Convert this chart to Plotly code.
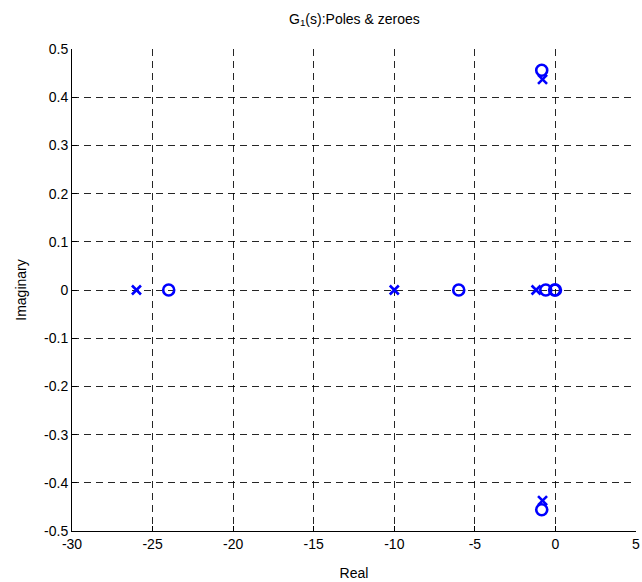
import plotly.graph_objects as go

# Data
pole_re = [-26.0, -10.0, -1.2, -0.8, -0.8]
pole_im = [0.0, 0.0, 0.0, 0.437, -0.437]
zero_re = [-24.0, -6.0, -0.6, 0.0, -0.05, -0.85, -0.85]
zero_im = [0.0, 0.0, 0.0, 0.0, 0.0, 0.456, -0.456]

x_ticks = [-30, -25, -20, -15, -10, -5, 0, 5]
x_tick_text = ["-30", "-25", "-20", "-15", "-10", "-5", "0", "5"]
y_ticks = [0.5, 0.4, 0.3, 0.2, 0.1, 0, -0.1, -0.2, -0.3, -0.4, -0.5]
y_tick_text = ["0.5", "0.4", "0.3", "0.2", "0.1", "0", "-0.1", "-0.2", "-0.3", "-0.4", "-0.5"]

BLUE = "rgb(0,0,255)"
FONT = "Liberation Sans, Arial, sans-serif"

fig = go.Figure()
fig.add_trace(go.Scatter(
    x=pole_re, y=pole_im, mode="markers", name="Poles",
    marker=dict(symbol="x-thin", size=9, line=dict(color=BLUE, width=2.6), color=BLUE),
    cliponaxis=False,
))
fig.add_trace(go.Scatter(
    x=zero_re, y=zero_im, mode="markers", name="Zeros",
    marker=dict(symbol="circle-open", size=11, line=dict(color=BLUE, width=2.6), color=BLUE),
    cliponaxis=False,
))

axis_common = dict(
    showline=True, linecolor="black", linewidth=1, mirror=False,
    ticks="inside", ticklen=5, tickcolor="black", tickwidth=1,
    showgrid=True, gridcolor="rgba(0,0,0,0.85)", gridwidth=1, griddash="7px,5px",
    zeroline=False, automargin=False,
    tickfont=dict(family=FONT, size=14, color="black"),
    title_font=dict(family=FONT, size=14, color="black"),
)

fig.update_xaxes(
    range=[-30, 5], tickmode="array", tickvals=x_ticks, ticktext=x_tick_text,
    title_text="Real", title_standoff=17, **axis_common,
)
fig.update_yaxes(
    range=[-0.5, 0.5], tickmode="array", tickvals=y_ticks, ticktext=y_tick_text,
    title_text="Imaginary", title_standoff=14, **axis_common,
)

fig.update_layout(
    width=642, height=582,
    margin=dict(l=72, r=6, t=49, b=51),
    paper_bgcolor="white", plot_bgcolor="white",
    showlegend=False,
    title=dict(text="G<sub>1</sub>(s):Poles & zeroes", x=0.552, xanchor="center",
               y=0.968, yanchor="middle",
               font=dict(family=FONT, size=14, color="black")),
)

fig.write_html("out.html")
